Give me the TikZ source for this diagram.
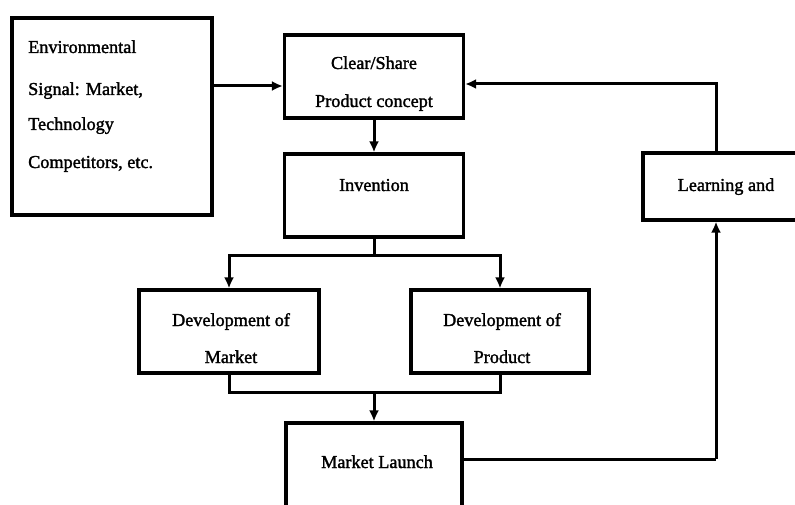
\documentclass[tikz,border=0pt]{standalone}
\usepackage{fontspec}
\setmainfont{Liberation Serif}
\newfontfamily\labelfont[FakeBold=1.6]{Liberation Serif}
\usetikzlibrary{arrows.meta}
\begin{document}
\begin{tikzpicture}[x=1pt,y=-1pt,
  box/.style={draw,line width=3.2pt,rectangle,inner sep=0pt},
  txt/.style={anchor=base,inner sep=0pt,font=\labelfont\fontsize{18.2}{20}\selectfont},
  link/.style={line width=3pt},
  arr/.style={link,-{Latex[length=11pt,width=10pt]}}]
  \useasboundingbox (0,0) rectangle (795,505);
  \clip (0,0) rectangle (795,505);
  \fill[white] (0,0) rectangle (795,505);

  % boxes
  \node[box,minimum width=200,minimum height=197] (env) at (112,116.5) {};
  \node[box,minimum width=179,minimum height=83] (clear) at (374,76.5) {};
  \node[box,minimum width=179,minimum height=83] (inv) at (374,195.5) {};
  \node[box,minimum width=218,minimum height=67] (learn) at (752,186.5) {};
  \node[box,minimum width=180,minimum height=83] (devm) at (229,331.5) {};
  \node[box,minimum width=178,minimum height=83] (devp) at (500,331.5) {};
  \node[box,minimum width=176,minimum height=100] (launch) at (374,473) {};

  % texts
  \node[txt,anchor=base west] (t1) at (28,53) {Environmental};
  \node[txt,anchor=base west] (t2) at (28,95) {Signal: Market,};
  \node[txt,anchor=base west] (t3) at (28,130) {Technology};
  \node[txt,anchor=base west] (t4) at (28,168) {Competitors, etc.};
  \node[txt] (t5) at (374,69) {Clear/Share};
  \node[txt] (t6) at (374,107) {Product concept};
  \node[txt] (t7) at (374,191) {Invention};
  \node[txt] (t8) at (726,191) {Learning and};
  \node[txt] (t9) at (231,326) {Development of};
  \node[txt] (t10) at (231,363) {Market};
  \node[txt] (t11) at (502,326) {Development of};
  \node[txt] (t12) at (502,363) {Product};
  \node[txt] (t13) at (377,468) {Market Launch};

  % junction points of the connectors
  \coordinate (a1) at (0,86);
  \coordinate (j1) at (374,255);
  \coordinate (j2) at (374,392);
  \coordinate (c3) at (716,459);
  \coordinate (c4) at (716,84);

  % connectors
  \draw[arr] (env.east |- a1) -- (clear.west |- a1);
  \draw[arr] (clear.south) -- (inv.north);
  \draw[link] (inv.south) -- (j1);
  \draw[arr] (j1) -| (devm.north);
  \draw[arr] (j1) -| (devp.north);
  \draw[link] (devm.south) |- (j2) -| (devp.south);
  \draw[arr] (j2) -- (launch.north);
  \draw[link] (launch.east |- c3) -- (c3);
  \draw[arr] (c3) -- (c3 |- learn.south);
  \draw[arr] (learn.north -| c4) |- (clear.east |- c4);
\end{tikzpicture}
\end{document}
